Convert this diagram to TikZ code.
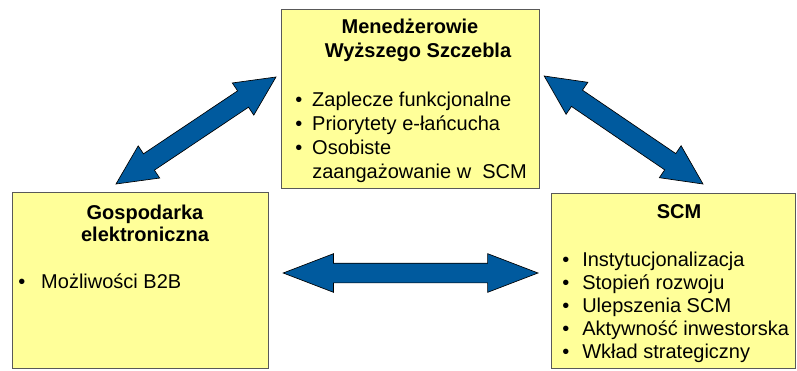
\documentclass[tikz,border=0pt]{standalone}
\usepackage{fontspec}
\setmainfont{Liberation Sans}
\usetikzlibrary{shapes.arrows,calc}
\definecolor{kasten}{RGB}{255,255,153}
\definecolor{pfeilblau}{RGB}{0,90,158}
\newcommand{\bul}[1][12.75pt]{\makebox[#1][l]{\textbullet}}
\newcommand{\dblpfeil}[3][]{\path let \p1=($(#3)-(#2)$), \n1={atan2(\y1,\x1)}, \n2={veclen(\x1,\y1)} in node[dblarr, #1, minimum height=\n2, rotate=\n1] at ($(#2)!.5!(#3)$) {};}
\begin{document}
\begin{tikzpicture}[x=0.75pt, y=-0.75pt,
	box/.style={draw=black!65, line width=0.9pt, fill=kasten, anchor=north west, inner sep=0},
	titel/.style={font=\fontsize{15}{18}\selectfont\bfseries, align=center, anchor=base, inner sep=0},
	liste/.style={font=\fontsize{15}{18}\selectfont, align=left, anchor=base west, inner sep=0},
	dblarr/.style={double arrow, draw=black, line width=0.5pt, fill=pfeilblau, inner xsep=0, inner ysep=7.125pt,
		minimum width=28.5pt, double arrow head extend=7.125pt, double arrow tip angle=52}]
\useasboundingbox (0,0) rectangle (797,371);
% Kaesten
\node[box, minimum width=193.5pt, minimum height=134.25pt] (msz) at (281,9) {};
\node[box, minimum width=192pt, minimum height=132pt] (ge) at (12,192) {};
\node[box, minimum width=183pt, minimum height=131.25pt] (scm) at (551,193) {};
% Texte oben
\node[titel] (msztitel) at (410,57) {Menedżerowie\\ \hspace*{12pt}Wyższego Szczebla};
\node[liste] (mszliste) at (295,178) {\bul Zaplecze funkcjonalne\\ \bul Priorytety e-łańcucha\\ \bul Osobiste\\ \hspace*{12.75pt}zaangażowanie w\ \ SCM};
% Texte links
\node[titel, font=\fontsize{15}{16.5}\selectfont\bfseries] (getitel) at (145,241) {Gospodarka\\ elektroniczna};
\node[liste] (geliste) at (18,288) {\bul[17.25pt]Możliwości B2B};
% Texte rechts
\node[titel] (scmtitel) at (679,218) {SCM};
\node[liste, font=\fontsize{15}{17.25}\selectfont] (scmliste) at (562,358) {\bul[15pt]Instytucjonalizacja\\ \bul[15pt]Stopień rozwoju\\ \bul[15pt]Ulepszenia SCM\\ \bul[15pt]Aktywność inwestorska\\ \bul[15pt]Wkład strategiczny};
% Pfeile
\coordinate (p1) at ($(ge.north west)+(104,-8)$);
\coordinate (p2) at ($(msz.north west)+(-5,68)$);
\coordinate (p3) at ($(msz.north east)+(4,67)$);
\coordinate (p4) at ($(scm.north west)+(152,-9)$);
\coordinate (p5) at ($(ge.north east)+(14,81)$);
\coordinate (p6) at ($(scm.north west)+(-13,80)$);
\dblpfeil{p1}{p2}
\dblpfeil{p3}{p4}
\dblpfeil[double arrow tip angle=42]{p5}{p6}
\end{tikzpicture}
\end{document}
